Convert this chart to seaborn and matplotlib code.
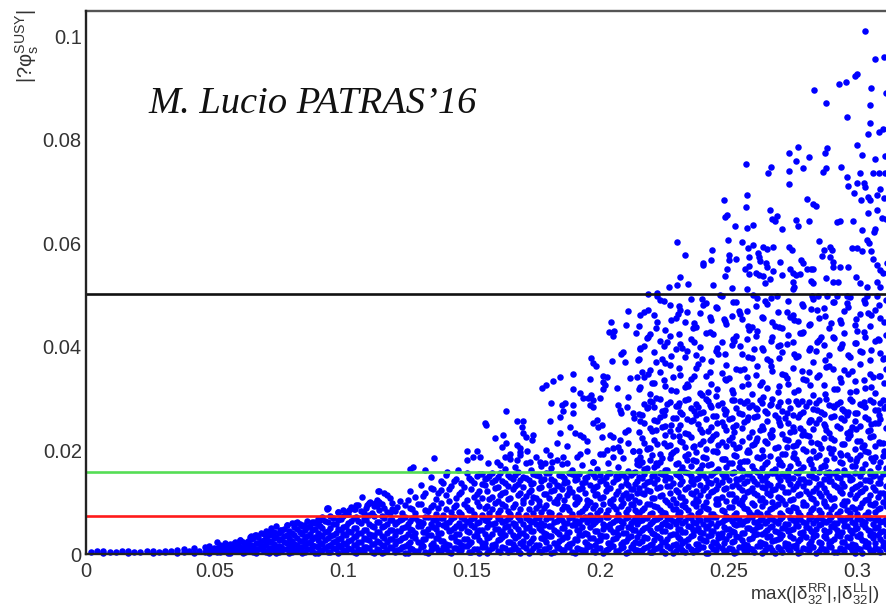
import matplotlib
matplotlib.use("Agg")
import matplotlib.pyplot as plt
from matplotlib.ticker import MultipleLocator, FuncFormatter
import pandas as pd
import seaborn as sns

# ---------------- data (values in units of 1e-4) ----------------
# low-x tail: column x positions and the y values of the points in each column
tail_x = [20, 44, 68, 92, 116, 140, 164, 188, 212, 236, 260, 284, 308, 332, 356,
          380, 402, 421, 440, 462, 480, 500, 521, 540, 561, 580, 600, 620, 641, 660,
          680, 701, 720, 741, 760, 781, 800, 820, 841, 860, 880, 901, 920, 941, 960,
          981, 1000, 1020, 1041, 1060, 1080, 1101, 1120, 1141, 1160, 1181]
tail_y = [[3], [5], [2, 5], [4], [3], [5], [2, 6], [4], [3], [6], [2, 5], [4], [3, 6], [5], [2, 7],
          [3, 9], [5], [2, 11], [6], [4, 13], [1, 8, 15], [6, 12], [3, 10, 18], [7, 14, 21], [2, 11, 19],
          [5, 9, 16, 24], [8, 13, 27], [3, 12, 20], [6, 17, 29, 34], [2, 10, 22, 37],
          [9, 15, 26, 41], [4, 19, 31, 45], [11, 24, 38, 50], [1, 7, 16, 33, 55], [5, 14, 28, 44, 47],
          [9, 21, 36, 56], [3, 12, 25, 41, 59], [7, 18, 30, 49, 62], [2, 14, 26, 38, 55], [10, 22, 34, 52, 64],
          [5, 17, 29, 46, 61], [1, 13, 27, 40, 58, 67], [8, 19, 35, 50, 71], [4, 15, 31, 44, 62, 88],
          [11, 24, 37, 57, 69], [2, 17, 29, 48, 66, 82], [7, 21, 39, 53, 74, 85], [12, 26, 44, 60, 78],
          [3, 18, 33, 51, 70, 86], [9, 23, 41, 64, 95], [5, 14, 30, 47, 67, 80], [11, 27, 38, 58, 76, 98],
          [1, 19, 35, 52, 73, 92], [8, 24, 43, 62, 84, 101], [4, 16, 31, 55, 70, 89], [13, 29, 46, 66, 79, 108]]
tail2_x = [511, 531, 551, 571, 590, 610, 631, 651, 670, 691, 711, 731, 751, 771, 791, 811, 831, 851,
           871, 891, 911, 931, 951, 971, 991, 1011, 1031, 1051, 1071, 1091, 1111, 1131, 1151, 1171, 1191]
tail2_y = [[4, 12], [7, 16], [2, 13], [9, 19], [5, 15, 22], [1, 11, 24], [7, 18, 26], [3, 14, 30],
           [10, 21, 33], [5, 16, 27, 39], [1, 12, 25, 36], [8, 20, 31, 43], [4, 15, 27, 40], [10, 23, 35, 48],
           [2, 17, 30, 45], [7, 20, 36, 52], [12, 26, 43, 57], [4, 18, 31, 47], [9, 24, 39, 54],
           [1, 15, 33, 49, 60], [6, 21, 37, 55], [12, 27, 43, 63], [3, 18, 34, 51, 74], [9, 25, 40, 58],
           [14, 31, 47, 68], [5, 20, 36, 55, 77], [10, 27, 43, 63, 90], [2, 17, 34, 50, 72],
           [8, 23, 41, 59, 83], [13, 29, 46, 66, 88], [4, 20, 37, 55, 79], [10, 26, 43, 61, 92, 104],
           [1, 18, 35, 52, 74, 96], [7, 24, 40, 58, 81, 113], [12, 29, 47, 66, 87, 99]]

# central part: columns between x = 0.12 and 0.215
core_x = [1203, 1221, 1242, 1260, 1281, 1302, 1320, 1341, 1362, 1380, 1401, 1422, 1440, 1461, 1482, 1500,
          1521, 1542, 1560, 1581, 1602, 1620, 1641, 1662, 1680, 1701, 1722, 1740, 1761, 1782, 1800, 1821,
          1842, 1860, 1881, 1902, 1920, 1941, 1962, 1980, 2001, 2022, 2040, 2061, 2082, 2100, 2121, 2136]
core_y = [[4, 19, 37, 58, 83], [9, 27, 45, 66, 102], [2, 15, 33, 52, 71, 94], [11, 24, 48, 63, 88, 121],
          [6, 31, 40, 69, 79, 110], [13, 22, 54, 61, 97, 133], [3, 28, 43, 72, 85, 117],
          [8, 18, 36, 57, 91, 128, 149], [14, 30, 49, 65, 77, 106], [5, 25, 41, 70, 99, 124, 140],
          [10, 20, 53, 60, 86, 113, 152], [1, 33, 46, 67, 81, 131], [12, 26, 38, 55, 95, 108, 144],
          [7, 17, 50, 71, 78, 119, 137], [15, 29, 44, 62, 90, 104, 156], [4, 23, 56, 68, 84, 126, 142],
          [9, 35, 42, 59, 101, 115, 150], [13, 21, 47, 72, 76, 109, 135, 154], [2, 30, 52, 64, 93, 122, 146],
          [11, 18, 39, 57, 87, 111, 139, 157], [6, 27, 49, 70, 80, 103, 129, 148], [14, 32, 45, 61, 96, 118, 141],
          [3, 24, 54, 67, 83, 107, 132, 153], [10, 19, 37, 60, 91, 125, 144], [8, 34, 48, 71, 77, 114, 136, 158],
          [15, 26, 41, 58, 98, 105, 130, 149], [1, 22, 53, 66, 86, 120, 143], [12, 31, 44, 63, 79, 110, 138, 155],
          [5, 17, 50, 69, 94, 102, 127, 151], [9, 28, 40, 56, 88, 116, 145], [13, 35, 55, 72, 82, 108, 134, 157],
          [4, 21, 46, 62, 100, 123, 140], [11, 25, 39, 67, 75, 112, 131, 152], [7, 33, 51, 60, 92, 104, 137, 147],
          [14, 20, 43, 70, 85, 119, 128, 156], [2, 29, 56, 64, 97, 111, 142, 150], [10, 36, 47, 59, 80, 106, 126, 154],
          [6, 23, 41, 71, 89, 117, 139, 146], [15, 30, 52, 65, 76, 101, 133, 158], [3, 18, 45, 61, 95, 114, 129, 148],
          [12, 27, 37, 68, 84, 109, 141, 153], [8, 34, 54, 72, 78, 121, 135, 149], [13, 22, 48, 57, 99, 103, 127, 157],
          [5, 31, 42, 66, 87, 115, 144, 151], [11, 19, 53, 63, 93, 107, 132, 155], [1, 26, 40, 70, 81, 118, 138, 147],
          [14, 35, 50, 60, 96, 112, 125, 152], [7, 24, 46, 69, 85, 105, 136, 159]]
core2_x = [1212, 1231, 1251, 1270, 1291, 1311, 1330, 1351, 1371, 1390, 1411, 1431, 1450, 1471, 1491, 1510,
           1531, 1551, 1570, 1591, 1611, 1630, 1651, 1671, 1690, 1711, 1731, 1750, 1771, 1791, 1810, 1831,
           1851, 1870, 1891, 1911, 1930, 1951, 1971, 1990, 2011, 2031, 2050, 2071, 2091, 2110, 2128, 2144]
core2_y = [[7, 25, 44, 62, 91], [13, 30, 51, 68, 79], [2, 19, 39, 57, 104], [10, 34, 47, 70, 86],
           [5, 23, 55, 64, 97], [15, 28, 42, 60, 112], [1, 36, 49, 71, 83], [11, 21, 53, 66, 95, 126],
           [8, 31, 40, 58, 88, 118], [14, 26, 56, 69, 76, 137], [3, 18, 45, 62, 102, 125], [12, 33, 50, 72, 90, 141],
           [6, 24, 38, 59, 81, 116], [16, 29, 54, 67, 97, 129], [4, 20, 43, 63, 85, 147],
           [10, 35, 52, 70, 77, 110, 138], [1, 27, 46, 61, 93, 122, 154], [13, 22, 39, 65, 88, 134, 145],
           [7, 32, 57, 71, 80, 106, 151], [15, 19, 48, 60, 99, 127, 143], [3, 28, 41, 68, 84, 114, 156, 172],
           [11, 36, 53, 64, 92, 120, 138, 165], [8, 23, 45, 72, 78, 108, 149, 183], [14, 30, 55, 58, 96, 131, 153, 167],
           [2, 21, 40, 66, 87, 117, 142, 196], [12, 34, 51, 69, 75, 112, 146, 175], [6, 26, 44, 62, 101, 124, 135, 162],
           [16, 18, 57, 70, 89, 109, 152, 188], [4, 31, 47, 60, 82, 129, 140, 170], [10, 24, 38, 67, 94, 115, 157, 201],
           [1, 35, 54, 71, 79, 121, 144, 166], [13, 20, 43, 63, 98, 106, 133, 182], [7, 29, 50, 66, 86, 126, 150, 173],
           [15, 33, 41, 59, 91, 113, 139, 209], [3, 22, 56, 72, 77, 119, 155, 163], [11, 27, 46, 64, 100, 110, 145, 187],
           [8, 36, 52, 68, 83, 128, 137, 171], [14, 19, 39, 61, 95, 105, 148, 219], [5, 31, 57, 70, 88, 123, 154, 178],
           [12, 25, 44, 65, 80, 116, 132, 164], [2, 34, 48, 58, 97, 111, 143, 193], [10, 21, 55, 72, 84, 127, 157, 176],
           [16, 28, 42, 62, 92, 107, 139, 205], [6, 37, 51, 67, 78, 121, 147, 168], [13, 23, 40, 60, 99, 114, 152, 185],
           [4, 30, 53, 71, 87, 109, 134, 161], [11, 19, 46, 64, 94, 125, 156, 199], [8, 33, 58, 69, 81, 118, 141, 174]]

# wide part: columns between x = 0.215 and 0.311
wide_x = [2152, 2171, 2193, 2211, 2233, 2252, 2271, 2294, 2312, 2331, 2353, 2372, 2391, 2413, 2432, 2450,
          2473, 2491, 2512, 2530, 2551, 2572, 2590, 2611, 2632, 2650, 2671, 2692, 2710, 2731, 2752, 2770,
          2791, 2812, 2830, 2851, 2872, 2890, 2911, 2932, 2950, 2971, 2992, 3010, 3031, 3052, 3070, 3091, 3112]
wide_y = [[5, 22, 41, 63, 80, 101, 127, 149, 171, 198, 236, 271, 318, 377, 441],
          [12, 33, 50, 69, 88, 115, 133, 155, 165, 214, 252, 289, 341, 402, 468],
          [3, 18, 46, 58, 77, 96, 121, 141, 182, 205, 243, 296, 309, 356, 425],
          [9, 27, 38, 66, 92, 108, 138, 152, 168, 221, 259, 283, 331, 389, 462],
          [15, 30, 52, 71, 84, 112, 129, 157, 177, 193, 265, 300, 352, 412, 490],
          [2, 24, 44, 61, 79, 104, 143, 150, 162, 229, 247, 278, 325, 368, 433],
          [11, 36, 55, 68, 95, 118, 131, 146, 186, 210, 238, 293, 364, 420, 480],
          [6, 20, 39, 57, 86, 99, 124, 154, 173, 201, 262, 286, 314, 395, 455],
          [14, 29, 48, 72, 81, 110, 136, 148, 160, 218, 249, 275, 346, 406, 472],
          [4, 25, 43, 64, 90, 103, 126, 158, 189, 207, 233, 297, 322, 381, 447],
          [10, 34, 53, 70, 76, 117, 140, 151, 169, 225, 256, 281, 338, 416, 493],
          [7, 19, 47, 60, 93, 107, 122, 144, 179, 196, 268, 290, 359, 384, 438],
          [13, 31, 42, 65, 83, 113, 134, 156, 164, 213, 241, 273, 311, 399, 466],
          [1, 26, 51, 67, 89, 100, 130, 147, 185, 203, 260, 299, 344, 427, 485],
          [16, 37, 45, 59, 78, 119, 137, 153, 174, 222, 245, 284, 328, 372, 451],
          [8, 21, 54, 71, 97, 106, 125, 142, 161, 199, 231, 267, 305, 391, 476],
          [12, 32, 40, 62, 85, 111, 139, 155, 183, 216, 254, 292, 349, 410, 498],
          [5, 28, 49, 68, 74, 102, 128, 150, 167, 208, 239, 276, 336, 365, 444],
          [10, 23, 44, 63, 91, 116, 132, 157, 176, 226, 263, 298, 317, 404, 460],
          [3, 35, 56, 70, 80, 109, 135, 145, 190, 204, 250, 282, 357, 421, 487],
          [14, 27, 41, 58, 94, 105, 123, 149, 163, 219, 244, 270, 324, 386, 453],
          [6, 18, 50, 66, 87, 120, 141, 154, 180, 197, 258, 295, 342, 415, 470],
          [9, 30, 46, 72, 76, 98, 127, 146, 170, 211, 235, 287, 308, 379, 439],
          [15, 38, 53, 61, 82, 114, 136, 158, 187, 224, 266, 279, 363, 430, 495],
          [2, 22, 39, 69, 93, 108, 129, 143, 166, 200, 248, 291, 333, 397, 458],
          [11, 33, 47, 64, 79, 117, 138, 152, 178, 215, 257, 273, 320, 376, 482],
          [7, 25, 55, 67, 88, 101, 124, 156, 160, 228, 240, 300, 354, 418, 447],
          [13, 29, 42, 60, 96, 111, 133, 148, 184, 206, 262, 285, 313, 401, 467],
          [4, 36, 51, 71, 75, 104, 130, 155, 172, 194, 232, 277, 347, 390, 436],
          [10, 20, 45, 57, 84, 119, 142, 150, 162, 221, 253, 296, 329, 423, 489],
          [16, 31, 48, 65, 90, 107, 126, 147, 188, 209, 246, 268, 360, 409, 461],
          [1, 26, 54, 70, 81, 113, 137, 157, 175, 217, 264, 289, 316, 383, 449],
          [12, 37, 43, 62, 95, 100, 131, 144, 168, 202, 237, 274, 337, 428, 478],
          [8, 19, 50, 68, 78, 116, 139, 153, 181, 227, 255, 293, 351, 394, 442],
          [14, 32, 40, 59, 89, 106, 122, 149, 165, 198, 242, 280, 307, 371, 492],
          [5, 24, 56, 72, 85, 118, 135, 158, 191, 213, 261, 298, 345, 413, 456],
          [9, 34, 47, 63, 98, 103, 128, 145, 171, 223, 251, 271, 326, 403, 474],
          [15, 21, 44, 66, 77, 112, 140, 151, 159, 205, 234, 288, 362, 385, 437],
          [3, 28, 52, 60, 92, 109, 134, 156, 186, 220, 267, 283, 319, 417, 486],
          [11, 35, 41, 69, 83, 121, 125, 146, 177, 195, 243, 294, 339, 398, 451],
          [6, 23, 55, 64, 94, 102, 132, 154, 163, 212, 259, 276, 355, 426, 469],
          [13, 30, 46, 71, 80, 115, 143, 148, 183, 230, 238, 299, 312, 380, 497],
          [2, 17, 49, 58, 87, 108, 129, 157, 169, 203, 256, 272, 334, 407, 443],
          [10, 33, 39, 67, 91, 120, 136, 150, 192, 218, 247, 290, 366, 392, 463],
          [16, 26, 53, 62, 76, 105, 127, 143, 174, 199, 265, 284, 321, 419, 484],
          [7, 36, 45, 70, 97, 114, 141, 155, 161, 225, 239, 297, 348, 374, 440],
          [12, 22, 50, 65, 82, 99, 123, 152, 187, 208, 252, 278, 310, 411, 471],
          [4, 29, 42, 61, 88, 117, 138, 147, 178, 214, 260, 292, 343, 388, 455],
          [9, 35, 57, 68, 93, 110, 131, 158, 166, 196, 244, 286, 358, 422, 491]]
wide2_x = [2162, 2182, 2202, 2222, 2243, 2261, 2283, 2303, 2321, 2342, 2362, 2381, 2402, 2422, 2441, 2461,
           2482, 2501, 2521, 2541, 2561, 2581, 2600, 2621, 2641, 2660, 2681, 2701, 2720, 2741, 2761, 2780,
           2801, 2821, 2840, 2861, 2881, 2900, 2921, 2941, 2960, 2981, 3001, 3020, 3041, 3061, 3080, 3101]
wide2_y = [[8, 26, 47, 65, 85, 118, 146, 178, 224, 268, 352], [14, 31, 53, 70, 97, 123, 139, 166, 203, 281, 417],
           [3, 20, 40, 61, 79, 109, 151, 191, 237, 294, 331], [11, 35, 50, 68, 90, 127, 144, 172, 213, 256, 448],
           [6, 24, 44, 58, 82, 114, 155, 185, 245, 277, 376], [16, 29, 56, 72, 101, 132, 148, 163, 209, 290, 409],
           [1, 18, 38, 63, 87, 106, 137, 197, 228, 263, 341], [12, 33, 49, 66, 77, 120, 153, 176, 241, 286, 463],
           [7, 22, 42, 59, 94, 111, 141, 168, 217, 270, 398], [15, 28, 55, 71, 84, 129, 157, 194, 232, 299, 324],
           [4, 37, 46, 62, 99, 116, 135, 181, 206, 259, 437], [10, 19, 51, 69, 80, 103, 147, 161, 251, 284, 367],
           [13, 27, 41, 57, 92, 124, 152, 187, 219, 274, 481], [2, 34, 54, 67, 86, 112, 139, 171, 238, 295, 313],
           [9, 23, 45, 72, 78, 121, 156, 199, 227, 266, 425], [16, 30, 39, 60, 96, 107, 134, 164, 210, 288, 387],
           [5, 21, 52, 65, 83, 126, 149, 183, 247, 279, 454], [12, 36, 48, 70, 91, 115, 143, 175, 220, 261, 339],
           [1, 25, 43, 58, 75, 102, 158, 192, 235, 297, 412], [14, 32, 57, 68, 98, 130, 145, 167, 207, 272, 470],
           [7, 19, 40, 63, 88, 110, 137, 180, 254, 291, 358], [11, 29, 50, 71, 81, 122, 154, 196, 226, 283, 433],
           [3, 37, 46, 61, 94, 118, 140, 162, 213, 264, 395], [15, 24, 55, 66, 77, 105, 151, 186, 240, 298, 327],
           [8, 20, 42, 59, 100, 128, 147, 173, 218, 276, 488], [13, 34, 53, 72, 86, 113, 133, 190, 231, 287, 372],
           [2, 27, 45, 64, 92, 125, 156, 165, 204, 269, 441], [10, 31, 39, 68, 79, 108, 142, 178, 249, 294, 403],
           [16, 22, 51, 57, 97, 119, 150, 193, 222, 262, 346], [5, 35, 47, 70, 83, 104, 136, 169, 236, 281, 458],
           [12, 18, 56, 62, 89, 131, 158, 184, 211, 296, 381], [4, 28, 41, 67, 76, 115, 144, 163, 243, 271, 427],
           [9, 33, 52, 60, 95, 122, 139, 198, 229, 285, 335], [15, 25, 44, 71, 85, 109, 153, 174, 216, 258, 473],
           [1, 37, 49, 65, 99, 127, 146, 188, 252, 292, 392], [11, 21, 58, 69, 80, 112, 135, 167, 205, 275, 419],
           [6, 30, 40, 62, 93, 120, 157, 182, 239, 299, 361], [14, 26, 54, 72, 87, 106, 141, 195, 224, 265, 446],
           [3, 36, 47, 59, 78, 130, 149, 160, 248, 289, 318], [10, 23, 43, 66, 96, 117, 138, 176, 212, 280, 406],
           [16, 32, 55, 70, 84, 103, 155, 191, 233, 268, 484], [7, 19, 41, 61, 91, 125, 145, 170, 245, 295, 353],
           [12, 35, 50, 68, 77, 113, 132, 186, 219, 273, 431], [2, 27, 57, 64, 98, 121, 158, 164, 207, 287, 389],
           [13, 22, 46, 72, 82, 107, 143, 197, 237, 261, 466], [5, 31, 38, 58, 94, 129, 151, 179, 228, 293, 342],
           [9, 36, 53, 67, 86, 111, 137, 168, 253, 278, 415], [15, 24, 45, 63, 100, 118, 154, 189, 214, 297, 377]]
# extra points in the upper half of the wide part (0.017 < y < 0.05)
wide3_x = [2157, 2187, 2217, 2248, 2277, 2308, 2337, 2367, 2397, 2427, 2456, 2487, 2517, 2546, 2576, 2606, 2636,
           2666, 2696, 2726, 2756, 2786, 2816, 2846, 2876, 2906, 2936, 2966, 2996, 3026, 3056, 3086, 3106]
wide3_y = [[188, 257, 322, 395, 462], [204, 283, 347, 418, 471], [176, 239, 301, 370, 436],
           [215, 268, 335, 402, 489], [193, 249, 316, 383, 452], [227, 292, 359, 424, 478],
           [181, 261, 328, 391, 467], [209, 276, 343, 409, 445], [172, 235, 306, 377, 493],
           [221, 287, 351, 428, 458], [196, 253, 319, 398, 474], [184, 271, 338, 386, 449],
           [212, 245, 311, 415, 486], [178, 296, 356, 402, 463], [201, 264, 329, 381, 441],
           [218, 281, 345, 421, 479], [189, 242, 303, 393, 456], [225, 289, 362, 412, 494],
           [174, 255, 324, 379, 439], [207, 272, 339, 405, 468], [195, 237, 313, 387, 451],
           [229, 295, 353, 426, 483], [183, 259, 327, 397, 444], [214, 278, 341, 410, 472],
           [170, 247, 308, 374, 459], [202, 285, 357, 419, 487], [191, 262, 332, 400, 446],
           [223, 274, 348, 385, 476], [179, 241, 315, 407, 453], [210, 293, 336, 429, 490],
           [186, 251, 323, 394, 461], [217, 268, 344, 413, 481], [199, 282, 330, 378, 448]]

# isolated points read one by one (x, y)
upper_pts = [(3031, 1010), (3070, 955), (3105, 960), (3113, 890), (2834, 896), (2931, 908), (2957, 912),
             (2992, 923), (3000, 927), (3054, 899), (2879, 871), (3051, 867), (2960, 844), (3049, 833),
             (3041, 810), (3087, 815), (3100, 820), (2999, 790), (3019, 771), (3070, 762), (3110, 769),
             (2568, 753), (2735, 775), (2769, 786), (2763, 759), (2812, 767), (2789, 746), (2882, 783),
             (2877, 775), (2665, 748), (2655, 735), (2737, 739), (2735, 714), (2869, 737), (2879, 746),
             (2936, 748), (2960, 728), (2966, 711), (3001, 717), (3028, 716), (3031, 709), (3013, 735),
             (3061, 735), (3084, 735), (3109, 735), (2988, 697), (3014, 683), (3044, 689), (3051, 683),
             (3076, 694), (3089, 704), (3104, 687), (2484, 684), (2571, 694), (2568, 670), (2804, 685),
             (2830, 676), (2840, 672), (2486, 650), (2495, 654), (2527, 634), (2573, 629), (2594, 635),
             (2660, 664), (2668, 647), (2687, 653), (2681, 642), (2709, 627), (2761, 645), (2772, 633),
             (2813, 642), (2922, 640), (2934, 643), (2983, 642), (3044, 658), (3076, 664), (3096, 648),
             (3113, 647), (3071, 627), (3066, 622), (3021, 625), (2301, 602), (2331, 577), (2311, 534),
             (2270, 516), (2298, 519), (2344, 521), (2402, 561), (2401, 557), (2435, 586), (2432, 568),
             (2438, 519), (2486, 537), (2497, 606), (2503, 577), (2501, 568), (2493, 551), (2529, 569),
             (2554, 603), (2577, 590), (2580, 574), (2564, 550), (2579, 541), (2581, 556), (2597, 597),
             (2615, 582), (2620, 574), (2623, 566), (2606, 542), (2617, 538), (2636, 592), (2649, 588),
             (2674, 592), (2646, 561), (2649, 555), (2633, 537), (2642, 523), (2672, 547), (2661, 530),
             (2700, 564), (2707, 539), (2735, 593), (2746, 586), (2739, 550), (2750, 542), (2763, 539),
             (2778, 541), (2752, 526), (2755, 515), (2781, 568), (2791, 561), (2804, 550), (2820, 550),
             (2830, 550), (2820, 527), (2827, 523), (2853, 605), (2872, 586), (2862, 575), (2895, 593),
             (2902, 586), (2895, 574), (2908, 564), (2908, 555), (2878, 533), (2908, 526), (2927, 526),
             (2934, 555), (2966, 555), (2979, 590), (2999, 590), (3018, 584), (3038, 606), (3048, 601),
             (3053, 584), (3061, 569), (3076, 558), (3089, 548), (3102, 543), (3116, 561), (2996, 535),
             (3012, 524), (3038, 516), (3076, 526), (3089, 516), (2188, 502), (2221, 504), (2223, 498),
             (2467, 500), (2512, 513), (2571, 511), (2594, 500), (2688, 498), (2823, 498), (2850, 498),
             (2882, 498), (2921, 498), (2960, 498), (3038, 498), (3076, 498), (2752, 511),
             (2110, 470), (2043, 447), (2034, 428), (2054, 431), (2052, 421), (2100, 443), (2141, 427),
             (2088, 389), (2083, 386), (2154, 398), (2048, 373), (2096, 371), (2147, 375), (1964, 378),
             (1974, 368), (1984, 363), (1894, 347), (1961, 338), (2013, 344), (2026, 342), (2010, 333),
             (2019, 326), (2117, 339), (2143, 341), (1773, 320), (1790, 326), (1818, 334), (1844, 342),
             (1894, 318), (1922, 310), (1935, 301), (1955, 302), (1964, 307), (1974, 297), (1961, 288),
             (1974, 284), (2000, 301), (2010, 318), (2065, 320), (2110, 304), (2071, 288), (2078, 278),
             (2080, 272), (2104, 284), (2127, 272), (2132, 262), (1808, 291), (1851, 288), (1864, 292),
             (1896, 288), (1855, 277), (1844, 265), (1805, 257), (1894, 272), (1634, 277), (1676, 257),
             (1699, 257), (1695, 246), (1553, 252), (1556, 249), (1702, 233), (1712, 226), (1741, 230),
             (1734, 220), (1883, 246), (1903, 233), (1922, 230), (1935, 226), (1974, 252), (1987, 259),
             (1993, 246), (2006, 249), (2006, 226), (2039, 230), (2052, 226), (2078, 220), (2097, 236),
             (2110, 239), (1591, 223), (1624, 230), (1634, 214), (1617, 207), (1676, 210), (1689, 204),
             (1834, 215), (1844, 233), (1481, 198), (1520, 199), (1484, 181), (1507, 187), (1533, 188),
             (1565, 176), (1355, 186), (1598, 178), (1630, 188), (1650, 194), (1676, 181), (1689, 191),
             (1715, 198), (1728, 178), (1767, 178), (1786, 176), (1805, 191), (1812, 178), (1857, 188),
             (1870, 176), (1922, 194), (1948, 198), (1974, 178), (2000, 194), (2026, 201), (2052, 188),
             (2071, 207), (2078, 198), (2110, 214), (2130, 198), (2143, 181), (1261, 165), (1274, 167),
             (1319, 162), (1404, 159), (1449, 162),
             (936, 88), (1073, 111), (1135, 122), (1015, 82), (1047, 86), (1105, 101), (1092, 95),
             (938, 86), (1139, 122), (1158, 117), (979, 82), (1025, 85), (1051, 95), (1100, 98),
             (1126, 98), (756, 46), (782, 56), (814, 59), (847, 56), (886, 62), (912, 66), (639, 33),
             (659, 37), (711, 43), (600, 27), (510, 24)]

# horizontal reference levels
ref_levels = [0.0502, 0.0158, 0.0073]
ref_colors = ["#111111", "#55dd55", "#ff1a1a"]

x_ticks = [0, 0.05, 0.1, 0.15, 0.2, 0.25, 0.3]
y_ticks = [0, 0.02, 0.04, 0.06, 0.08, 0.1]

# ---------------- build table ----------------
xs, ys = [], []
all_x = tail_x + tail2_x + core_x + core2_x + wide_x + wide2_x + wide3_x
all_y = tail_y + tail2_y + core_y + core2_y + wide_y + wide2_y + wide3_y
for cx, col in zip(all_x, all_y):
    for v in col:
        xs.append(cx * 1e-4)
        ys.append(v * 1e-4)
for px, py in upper_pts:
    xs.append(px * 1e-4)
    ys.append(py * 1e-4)
df = pd.DataFrame({"delta": xs, "dphi": ys})

# ---------------- figure ----------------
sns.set_style("white")
plt.rcParams["font.family"] = ["Liberation Sans", "DejaVu Sans"]
plt.rcParams["mathtext.fontset"] = "custom"
plt.rcParams["mathtext.rm"] = "Liberation Sans"
plt.rcParams["mathtext.it"] = "Liberation Sans:italic"
plt.rcParams["mathtext.bf"] = "Liberation Sans:bold"

W, H = 887, 609
fig = plt.figure(figsize=(W / 100, H / 100), dpi=100)
fig.patch.set_facecolor("white")
x_scale = 2570.0   # px per unit
y_scale = 5180.0
ax = fig.add_axes([86 / W, 55 / H, 0.35 * x_scale / W, 543 / H])
ax.set_xlim(0, 0.35)
ax.set_ylim(0, 543 / y_scale)

sns.scatterplot(data=df, x="delta", y="dphi", ax=ax, color="#0000ff", s=22,
                linewidth=0, legend=False, clip_on=False, zorder=2)

for lvl, c in zip(ref_levels, ref_colors):
    ax.axhline(lvl, color=c, lw=1.9, zorder=3)

ax.set_xticks(x_ticks)
ax.set_yticks(y_ticks)
ax.xaxis.set_minor_locator(MultipleLocator(0.01))
ax.yaxis.set_minor_locator(MultipleLocator(0.005))
fmt = FuncFormatter(lambda v, p: f"{v:g}")
ax.xaxis.set_major_formatter(fmt)
ax.yaxis.set_major_formatter(fmt)

ax.tick_params(axis="y", which="major", direction="in", length=16.5, width=1.0,
               color="#444444", labelcolor="#333333", labelsize=14.5, pad=3)
ax.tick_params(axis="y", which="minor", direction="in", length=8.6, width=1.0, color="#444444")
ax.tick_params(axis="x", which="major", direction="in", length=11.5, width=1.0,
               color="#444444", labelcolor="#333333", labelsize=14.5, pad=6)
ax.tick_params(axis="x", which="minor", direction="in", length=5.8, width=1.0, color="#444444")

for side in ["left", "bottom"]:
    ax.spines[side].set_color("#222222")
    ax.spines[side].set_linewidth(1.7)
    ax.spines[side].set_zorder(4)
ax.spines["top"].set_color("#555555")
ax.spines["top"].set_linewidth(1.7)
ax.spines["right"].set_visible(False)
ax.set_xlabel("")
ax.set_ylabel("")

fig.text(750 / W, 9 / H, r"$\mathrm{max(|\delta^{RR}_{32}|{,}|\delta^{LL}_{32}|)}$",
         ha="left", va="baseline", fontsize=13.5, color="#333333")
fig.text(27 / W, 1 - 9 / H, r"$\mathrm{|?φ^{SUSY}_{s}|}$", rotation=90,
         ha="center", va="top", fontsize=14.5, color="#333333")
fig.text(148 / W, 1 - 113 / H, "M. Lucio PATRAS’16", family=["Liberation Serif", "DejaVu Serif"],
         style="italic", fontsize=27.7, color="#111111", ha="left", va="baseline")

fig.savefig("out.png", dpi=100, facecolor="white")
